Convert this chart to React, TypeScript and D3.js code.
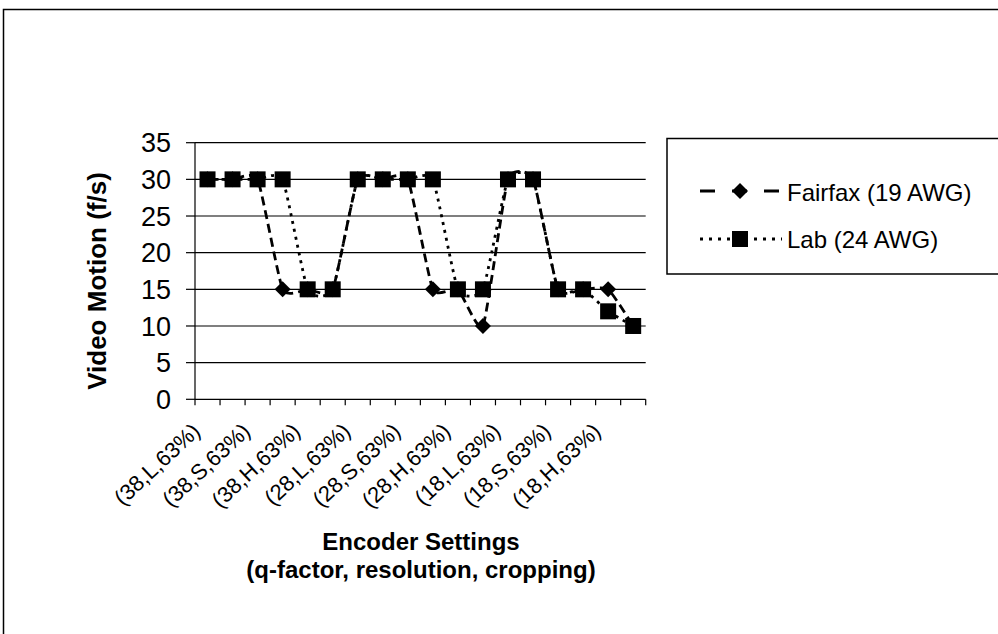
import React from "react";
import * as d3 from "d3";

const categories = [
  "(38,L,63%)", "", "(38,S,63%)", "", "(38,H,63%)", "", "(28,L,63%)", "",
  "(28,S,63%)", "", "(28,H,63%)", "", "(18,L,63%)", "", "(18,S,63%)", "",
  "(18,H,63%)", "",
];
const fairfax = [30, 30, 30, 15, 15, 15, 30, 30, 30, 15, 15, 10, 30, 30, 15, 15, 15, 10];
const lab = [30, 30, 30, 30, 15, 15, 30, 30, 30, 30, 15, 15, 30, 30, 15, 15, 12, 10];
const yTicks = [0, 5, 10, 15, 20, 25, 30, 35];
const seriesNames = ["Fairfax (19 AWG)", "Lab (24 AWG)"];

const FONT = "'Liberation Sans', Arial, sans-serif";

export default function App() {
  const W = 998, H = 634;
  const x = d3.scaleLinear().domain([0, categories.length]).range([195, 645.7]);
  const y = d3.scaleLinear().domain([0, 35]).range([399.3, 142.7]);
  const cx = (i: number) => x(i + 0.5);

  const line = d3
    .line<number>()
    .x((_, i) => cx(i))
    .y((d) => y(d))
    .curve(d3.curveCardinal.tension(0.5));

  const sq = 16;
  const dm = 8;
  const diamond = (px: number, py: number) =>
    `M${px},${py - dm}L${px + dm},${py}L${px},${py + dm}L${px - dm},${py}Z`;

  return (
    <svg
      width={W}
      height={H}
      style={{ position: "absolute", left: 0, top: 0, background: "#fff" }}
      fontFamily={FONT}
    >
      {/* outer frame */}
      <path d={`M3.5,${H}V9.5H${W}`} fill="none" stroke="#000" strokeWidth={1.5} />

      {/* gridlines */}
      {yTicks.filter((t) => t > 0).map((t) => (
        <line key={"g" + t} x1={x(0)} x2={x(categories.length)} y1={y(t)} y2={y(t)} stroke="#000" strokeWidth={1.2} />
      ))}
      {/* y axis */}
      <line x1={x(0)} x2={x(0)} y1={y(0)} y2={y(35)} stroke="#000" strokeWidth={1.2} />
      {yTicks.map((t) => (
        <g key={"yt" + t}>
          <line x1={x(0) - 9} x2={x(0)} y1={y(t)} y2={y(t)} stroke="#000" strokeWidth={1.2} />
          <text x={171} y={y(t)} dy="0.36em" textAnchor="end" fontSize={27}>
            {t}
          </text>
        </g>
      ))}
      {/* x axis */}
      <line x1={x(0)} x2={x(categories.length)} y1={y(0)} y2={y(0)} stroke="#000" strokeWidth={1.2} />
      {d3.range(categories.length + 1).map((i) => (
        <line key={"xt" + i} x1={x(i)} x2={x(i)} y1={y(0)} y2={y(0) + 6} stroke="#000" strokeWidth={1.2} />
      ))}
      {categories.map((c, i) =>
        c ? (
          <text
            key={"xl" + i}
            transform={`translate(${cx(i) - 6},${433}) rotate(-43)`}
            textAnchor="end"
            fontSize={22}
          >
            {c}
          </text>
        ) : null
      )}

      {/* series lines */}
      <path d={line(fairfax) || ""} fill="none" stroke="#000" strokeWidth={2.8} strokeDasharray="9,5" />
      <path d={line(lab) || ""} fill="none" stroke="#000" strokeWidth={2.8} strokeDasharray="3,5" />
      {fairfax.map((v, i) => (
        <path key={"fd" + i} d={diamond(cx(i), y(v))} fill="#000" />
      ))}
      {lab.map((v, i) => (
        <rect key={"ls" + i} x={cx(i) - sq / 2} y={y(v) - sq / 2} width={sq} height={sq} fill="#000" />
      ))}

      {/* axis titles */}
      <text transform="translate(106,281) rotate(-90)" textAnchor="middle" fontSize={26} fontWeight="bold">
        Video Motion (f/s)
      </text>
      <text x={421} y={550} textAnchor="middle" fontSize={24} fontWeight="bold">
        Encoder Settings
      </text>
      <text x={421} y={578} textAnchor="middle" fontSize={24} fontWeight="bold">
        (q-factor, resolution, cropping)
      </text>

      {/* legend */}
      <path d="M1000,138.5H667V274H1000" fill="none" stroke="#000" strokeWidth={1.5} />
      <line x1={700} x2={780} y1={191} y2={191} stroke="#000" strokeWidth={2.8} strokeDasharray="15,17" />
      <path d={diamond(740, 191)} fill="#000" />
      <text x={787} y={201} fontSize={24}>{seriesNames[0]}</text>
      <line x1={700} x2={782} y1={239} y2={239} stroke="#000" strokeWidth={2.8} strokeDasharray="3,6" />
      <rect x={740 - sq / 2} y={239 - sq / 2} width={sq} height={sq} fill="#000" />
      <text x={787} y={248} fontSize={24}>{seriesNames[1]}</text>
    </svg>
  );
}
